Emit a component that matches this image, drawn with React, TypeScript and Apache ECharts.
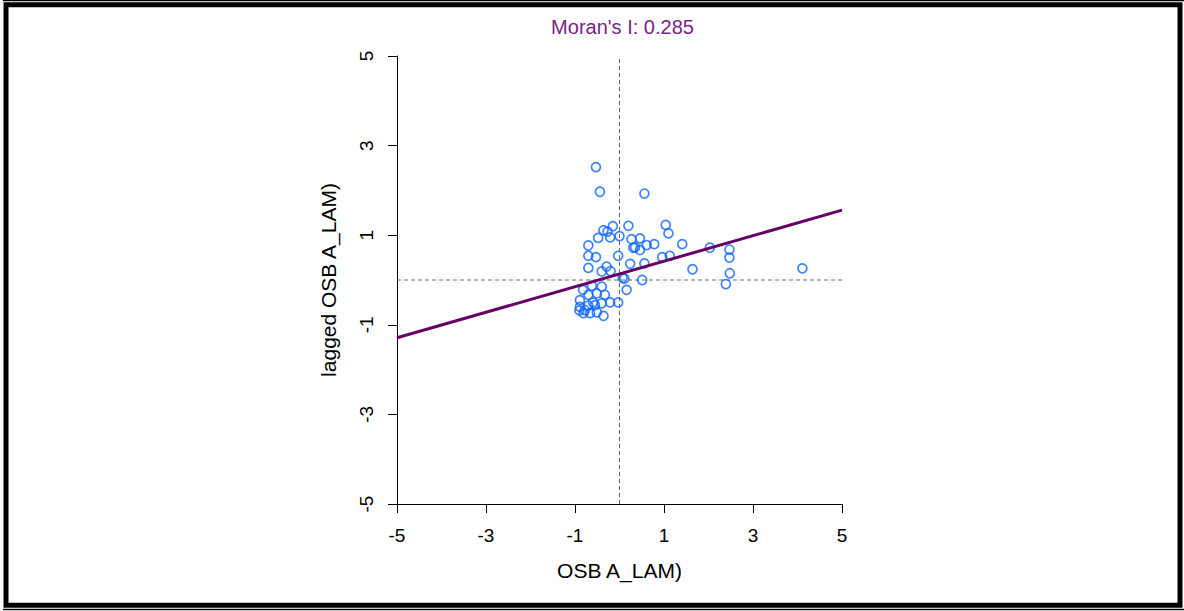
import React, { useEffect, useRef } from "react";
import * as echarts from "echarts";

const titleText = "Moran's I: 0.285";
const xName = "OSB A_LAM)";
const yName = "lagged OSB A_LAM)";

const xVals = [
  -0.53, -0.44, 0.56, 0.2, -0.15, -0.27, -0.36, 1.04, 1.1, -0.48, -0.21, 0.0, 0.27, 0.46, 0.35,
  0.46, 0.61, 0.78, 1.41, -0.7, -0.7, -0.53, -0.03, 0.24, 0.56, 0.96, 1.13, -0.7, -0.29, -0.4,
  1.64, 0.11, 0.51, 0.16, -0.03, -0.21, -0.36, 2.03, 2.47, 2.47, 2.48, 2.39, 4.11, 0.31, -0.82,
  -0.62, -0.4, -0.51, -0.33, -0.7, -0.89, -0.59, -0.4, -0.89, -0.7, -0.55, -0.81, -0.66, -0.51,
  -0.78, -0.9, 0.07, -0.2,
];
const yVals = [
  2.52, 1.97, 1.93, 1.21, 1.2, 1.08, 1.11, 1.23, 1.04, 0.94, 0.95, 0.98, 0.91, 0.93, 0.73,
  0.67, 0.78, 0.8, 0.8, 0.77, 0.54, 0.51, 0.54, 0.36, 0.37, 0.51, 0.54, 0.27, 0.3, 0.19,
  0.24, 0.03, 0.0, -0.22, -0.5, -0.5, -0.8, 0.72, 0.68, 0.5, 0.15, -0.09, 0.26, 0.72, -0.22,
  -0.13, -0.15, -0.3, -0.33, -0.33, -0.45, -0.5, -0.52, -0.6, -0.57, -0.56, -0.74, -0.74, -0.72,
  -0.67, -0.68, 0.05, 0.2,
];
const regX = [-5, 5];
const regY = [-1.29, 1.56];
const meanX = 0;
const meanY = 0;
const axisMin = -5;
const axisMax = 5;

export default function App() {
  const ref = useRef<HTMLDivElement>(null);
  useEffect(() => {
    document.body.style.margin = "0";
    const chart = echarts.init(ref.current!, null, { renderer: "svg" });
    const font = "'Liberation Sans', Arial, sans-serif";
    const axisCommon = {
      type: "value" as const,
      min: axisMin,
      max: axisMax,
      interval: 2,
      splitLine: { show: false },
      axisLine: { show: true, onZero: false, lineStyle: { color: "#000", width: 1 } },
      axisTick: { show: true, length: 9, lineStyle: { color: "#000", width: 1 } },
    };
    chart.setOption({
      animation: false,
      backgroundColor: "#fff",
      title: {
        text: titleText,
        left: 617.5,
        top: 12,
        textAlign: "center",
        textStyle: { color: "#7a1f87", fontSize: 20, fontWeight: "normal", fontFamily: font },
      },
      grid: { left: 397, right: 342, top: 56, bottom: 107 },
      xAxis: {
        ...axisCommon,
        name: xName,
        nameLocation: "middle",
        nameGap: 56,
        nameTextStyle: { color: "#000", fontSize: 21, fontFamily: font },
        axisLabel: { color: "#000", fontSize: 19, fontFamily: font, margin: 22 },
      },
      yAxis: {
        ...axisCommon,
        name: yName,
        nameLocation: "middle",
        nameGap: 58,
        nameRotate: 90,
        nameTextStyle: { color: "#000", fontSize: 21, fontFamily: font },
        axisLabel: { color: "#000", fontSize: 19, fontFamily: font, margin: 21, rotate: 90 },
      },
      series: [
        {
          type: "line",
          data: [[meanX, axisMin], [meanX, axisMax]],
          symbol: "none",
          lineStyle: { color: "#666", width: 1, type: [4, 3] },
          z: 1,
        },
        {
          type: "line",
          data: [[axisMin, meanY], [axisMax, meanY]],
          symbol: "none",
          lineStyle: { color: "#666", width: 1, type: [4, 3] },
          z: 1,
        },
        {
          type: "scatter",
          data: xVals.map((x, i) => [x, yVals[i]]),
          symbol: "circle",
          symbolSize: 9,
          itemStyle: { color: "rgba(255,255,255,0)", borderColor: "#0a64ff", borderWidth: 1.7 },
          z: 2,
        },
        {
          type: "line",
          data: regX.map((x, i) => [x, regY[i]]),
          symbol: "none",
          lineStyle: { color: "#660066", width: 3 },
          z: 3,
        },
      ],
      graphic: [
        {
          type: "rect",
          shape: { x: 6, y: 4.8, width: 1174, height: 600.5 },
          style: { fill: "none", stroke: "#000", lineWidth: 5 },
          silent: true,
        },
        {
          type: "line",
          shape: { x1: 3, y1: 0.5, x2: 1184, y2: 0.5 },
          style: { stroke: "#000", lineWidth: 1.5 },
          silent: true,
        },
        {
          type: "line",
          shape: { x1: 3, y1: 609.5, x2: 1184, y2: 609.5 },
          style: { stroke: "#000", lineWidth: 1.5 },
          silent: true,
        },
      ],
    });
    return () => chart.dispose();
  }, []);
  return <div ref={ref} style={{ width: 1184, height: 611 }} />;
}
